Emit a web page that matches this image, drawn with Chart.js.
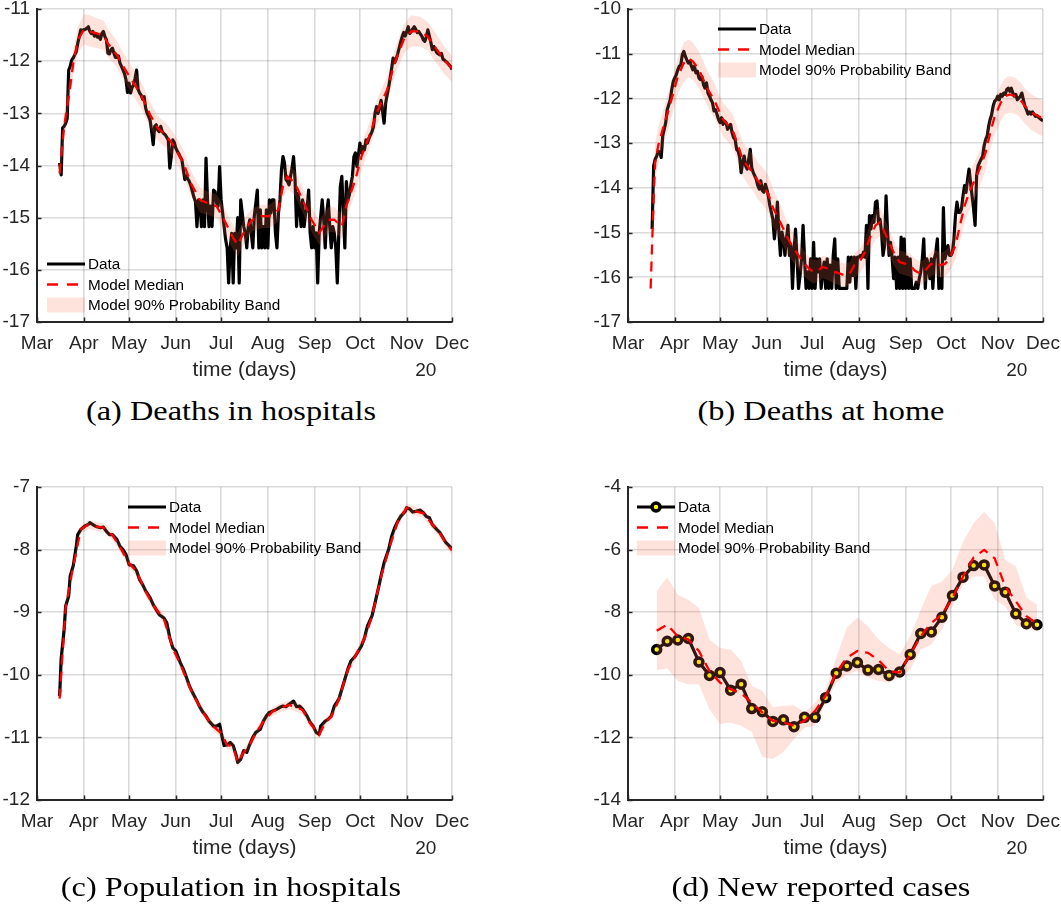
<!DOCTYPE html>
<html>
<head>
<meta charset="utf-8">
<title>Model fit: deaths, hospital population and new cases</title>
<script src="https://cdn.jsdelivr.net/npm/chart.js"></script>
<style>
  body {
    margin: 0;
    width: 1061px;
    height: 905px;
    position: relative;
    overflow: hidden;
    background: #fff;
  }
  canvas { position: absolute; }
  .caption {
    position: absolute;
    width: 600px;
    text-align: center;
    font-family: 'Liberation Serif', 'Times New Roman', serif;
    font-size: 26.5px;
    line-height: 30px;
    color: #000;
    transform: scaleX(1.22);
    white-space: nowrap;
  }
</style>
</head>
<body>
<canvas id="hospDeathsChart" width="470" height="395" style="left:0;top:0"></canvas>
<canvas id="homeDeathsChart" width="470" height="395" style="left:591px;top:0"></canvas>
<canvas id="hospPopChart" width="470" height="395" style="left:0;top:478px"></canvas>
<canvas id="newCasesChart" width="470" height="395" style="left:591px;top:478px"></canvas>

<div class="caption" style="left:-69px;top:396px">(a) Deaths in hospitals</div>
<div class="caption" style="left:521px;top:396px">(b) Deaths at home</div>
<div class="caption" style="left:-69px;top:872px">(c) Population in hospitals</div>
<div class="caption" style="left:521px;top:872px">(d) New reported cases</div>

<script>
// x axis is days since 1 March 2020
const monthStarts = [0, 31, 61, 92, 122, 153, 184, 214, 245, 275];
const monthNames = ['Mar', 'Apr', 'May', 'Jun', 'Jul', 'Aug', 'Sep', 'Oct', 'Nov', 'Dec'];

// (a) deaths in hospitals, daily from day 15
const hospStartDay = 15;
const hospDeaths = [
  -13.95, -14.18, -13.28, -13.25, -13.19, -13.1, -12.17, -12.1, -11.98, -11.94,
  -11.88, -11.82, -11.66, -11.53, -11.4, -11.41, -11.4, -11.39, -11.37, -11.34,
  -11.43, -11.47, -11.43, -11.52, -11.47, -11.54, -11.53, -11.58, -11.47, -11.43,
  -11.53, -11.59, -11.85, -11.86, -11.78, -11.75, -11.85, -11.93, -11.93, -11.9,
  -12.04, -12.1, -12.17, -12.24, -12.36, -12.6, -12.42, -12.61, -12.5, -12.46,
  -12.33, -12.17, -12.54, -12.61, -12.65, -12.73, -12.68, -12.9, -13.0, -13.06,
  -13.14, -13.35, -13.6, -13.25, -13.22, -13.32, -13.35, -13.25, -13.35, -13.39,
  -13.41, -13.46, -13.51, -14.05, -13.83, -13.51, -13.56, -13.67, -13.73, -13.78,
  -13.84, -13.89, -14.08, -14.27, -14.2, -14.26, -14.31, -14.39, -14.5, -14.61,
  -14.69, -15.17, -14.66, -14.73, -15.17, -14.66, -15.17, -13.86, -14.66, -15.17,
  -14.78, -15.17, -14.47, -14.5, -14.72, -14.78, -14.02, -14.66, -14.91, -15.17,
  -15.42, -15.58, -16.25, -15.58, -15.3, -16.25, -15.3, -15.58, -15.0, -16.25,
  -14.66, -14.91, -15.17, -15.29, -15.58, -15.17,
  -15.04, -15.29, -15.58, -14.97, -14.72, -14.47, -15.58, -14.85, -15.58, -15.17,
  -15.58, -14.85, -15.58, -14.66, -14.91, -14.66, -14.66, -15.29, -15.58, -14.91,
  -14.66, -14.08, -13.83, -13.95, -14.27, -14.31, -14.37, -14.21, -14.05, -13.83,
  -14.27, -15.17, -14.53, -14.78, -15.17, -14.66, -15.17, -14.91, -14.82, -14.47,
  -15.29, -15.58, -15.17, -15.58, -15.29, -16.25, -15.29, -14.97, -14.66, -15.04,
  -15.58, -14.91, -14.66, -15.17, -15.58, -15.17, -15.29, -15.58, -16.25, -15.29,
  -14.4, -14.21, -14.91, -15.58, -14.31, -14.66, -14.56, -14.37, -14.21, -13.83,
  -13.76, -14.02, -13.8, -13.57, -13.76, -13.64, -13.7, -13.51, -13.57, -13.48,
  -13.41, -13.35, -13.25, -13.0, -12.87, -13.0, -12.88, -12.75, -12.97, -13.19,
  -12.81, -12.65, -12.5, -12.33, -12.14, -11.94, -12.03, -11.96, -11.86, -11.75,
  -11.63, -11.53, -11.45, -11.52, -11.43, -11.34, -11.47, -11.43, -11.38, -11.34,
  -11.39, -11.45, -11.43, -11.48, -11.52, -11.59, -11.62, -11.53, -11.4, -11.52,
  -11.64, -11.78, -11.72, -11.78, -11.84, -11.86, -11.88, -11.85, -11.96, -11.98,
  -12.01, -12.03, -12.07, -12.1, -12.16
];
const hospModelDays = [
  15, 18, 22, 24, 27, 31, 35, 40, 44, 47, 53, 58, 64, 69, 75, 80, 86, 91, 97, 102,
  108, 113, 119, 124, 130, 133, 137, 141, 143, 149, 154, 160, 163, 166, 171, 176, 182, 187, 193, 197,
  202, 205, 211, 215, 220, 226, 232, 237, 243, 248, 254, 259, 265, 270, 275
];
const hospMedian = [
  -14.15, -13.25, -12.49, -12.04, -11.6, -11.4, -11.43, -11.47, -11.5, -11.66,
  -11.88, -12.14, -12.42, -12.65, -13.03, -13.28, -13.44, -13.64, -13.95, -14.34,
  -14.66, -14.72, -14.78, -15.04, -15.39, -15.52, -15.29, -15.1, -15.04, -14.97,
  -14.97, -14.85, -14.4, -14.21, -14.34, -14.66, -15.04, -15.29, -15.04, -15.04,
  -15.17, -14.78, -14.27, -13.83, -13.45, -12.93, -12.55, -12.04, -11.59, -11.43,
  -11.43, -11.53, -11.78, -11.98, -12.14
];
const hospBandLow = [
  -14.35, -13.5, -12.72, -12.28, -11.85, -11.68, -11.72, -11.75, -11.78, -11.92,
  -12.12, -12.4, -12.68, -12.9, -13.28, -13.52, -13.68, -13.88, -14.2, -14.58,
  -14.9, -14.95, -15.0, -15.28, -15.62, -15.75, -15.52, -15.32, -15.26, -15.2,
  -15.2, -15.08, -14.62, -14.45, -14.58, -14.9, -15.28, -15.52, -15.28, -15.28,
  -15.4, -15.02, -14.52, -14.08, -13.7, -13.18, -12.8, -12.3, -11.85, -11.72,
  -11.72, -11.8, -12.05, -12.25, -12.4
];
const hospBandHigh = [
  -13.95, -13.0, -12.25, -11.8, -11.35, -11.1, -11.12, -11.18, -11.22, -11.38,
  -11.62, -11.88, -12.15, -12.4, -12.78, -13.05, -13.2, -13.4, -13.7, -14.1,
  -14.42, -14.5, -14.55, -14.8, -15.15, -15.3, -15.05, -14.88, -14.82, -14.75,
  -14.75, -14.62, -14.18, -13.98, -14.1, -14.42, -14.8, -15.05, -14.8, -14.8,
  -14.92, -14.55, -14.02, -13.58, -13.2, -12.68, -12.3, -11.78, -11.3, -11.12,
  -11.15, -11.25, -11.5, -11.72, -11.9
];

// (b) deaths at home, daily from day 16
const homeStartDay = 16;
const homeDeaths = [
  -14.92, -13.51, -13.36, -13.29, -13.18, -13.21, -13.32, -12.84, -12.69, -12.54,
  -12.25, -12.14, -12.03, -11.8, -11.62, -11.54, -11.47, -11.36, -11.28, -11.25,
  -11.02, -10.95, -11.06, -11.14, -11.21, -11.17, -11.28, -11.36, -11.28, -11.43,
  -11.39, -11.54, -11.58, -11.51, -11.69, -11.77, -11.65, -11.88, -11.95, -12.03,
  -12.1, -12.28, -12.25, -12.36, -12.47, -12.54, -12.43, -12.58, -12.51, -12.54,
  -12.69, -12.62, -12.58, -12.77, -12.88, -12.92, -13.14, -13.18, -13.32, -13.66,
  -13.43, -13.29, -13.51, -13.58, -13.36, -13.14, -13.55, -13.66, -13.73, -13.81,
  -13.95, -14.03, -13.84, -14.06, -14.1, -13.92, -14.03, -14.18, -14.4, -14.55,
  -14.7, -15.14, -14.84, -14.32, -14.99, -15.51, -14.99, -15.14, -15.51, -15.14,
  -14.84, -15.51, -15.29, -16.25, -15.44, -14.92, -15.59, -16.25, -15.96, -15.59,
  -14.84, -15.59, -16.25, -15.88, -16.25, -15.59, -16.25, -15.22, -16.25, -15.59,
  -15.88, -15.59, -16.25, -15.88, -15.66, -16.25, -15.59, -16.25, -15.73, -16.25,
  -15.51, -15.14, -16.25, -15.59, -16.25, -16.25, -16.25, -16.25, -16.25, -16.25,
  -15.55, -16.11, -15.55, -15.96, -15.55, -16.25, -15.55, -15.55, -15.51, -15.55,
  -15.44, -15.55, -14.84, -16.25, -14.62, -14.92, -14.62, -14.77, -14.32, -14.29,
  -14.77, -14.7, -14.99, -15.51, -15.29, -14.18, -14.99, -15.51, -15.22, -15.55,
  -16.03, -15.55, -16.25, -15.55, -16.25, -15.1, -16.25, -15.14, -16.25, -15.55,
  -16.25, -15.59, -16.25, -16.25, -16.25, -16.11, -16.25, -16.03, -15.88, -15.59,
  -15.14, -16.25, -15.59, -15.73, -16.03, -15.59, -16.25, -15.59, -15.44, -15.14,
  -16.25, -16.03, -16.25, -14.44, -15.59, -15.44, -15.29, -15.51, -15.51, -15.44,
  -15.14, -14.62, -14.32, -14.55, -14.55, -14.47, -14.18, -13.95, -14.1, -13.81,
  -13.58, -13.88, -14.18, -14.47, -14.84, -13.73, -13.51, -13.43, -13.36, -13.29,
  -13.06, -12.92, -12.84, -12.62, -12.47, -12.36, -12.17, -12.06, -12.03, -11.95,
  -12.03, -11.91, -11.95, -11.88, -11.91, -11.8, -11.77, -11.84, -11.77, -11.88,
  -11.95, -11.91, -12.03, -11.99, -11.95, -11.88, -12.03, -12.17, -12.25, -12.35,
  -12.3, -12.35, -12.3, -12.35, -12.4, -12.38, -12.42, -12.45, -12.48, -12.5
];
const homeModelDays = [
  15, 17, 18, 20, 23, 27, 30, 33, 37, 40, 43, 47, 50, 53, 57, 60, 63, 67, 70, 73,
  76, 80, 83, 86, 90, 93, 96, 100, 103, 106, 110, 113, 116, 120, 123, 126, 129, 133, 137, 144,
  147, 150, 154, 157, 160, 164, 167, 170, 174, 177, 180, 184, 187, 190, 194, 197, 200, 203, 207, 210,
  213, 217, 220, 223, 227, 230, 233, 237, 240, 243, 247, 250, 253, 257, 260, 263, 267, 271, 275
];
const homeMedian = [
  -16.25, -14.25, -13.43, -13.06, -12.69, -12.25, -11.88, -11.51, -11.21, -11.1,
  -11.17, -11.36, -11.58, -11.8, -12.03, -12.25, -12.47, -12.62, -12.77, -13.06,
  -13.36, -13.55, -13.66, -13.84, -13.99, -14.14, -14.44, -14.7, -14.92, -15.14,
  -15.36, -15.51, -15.66, -15.81, -15.88, -15.85, -15.77, -15.81, -15.88, -15.96,
  -15.92, -15.73, -15.62, -15.44, -15.14, -14.84, -14.77, -14.99, -15.29, -15.51,
  -15.66, -15.7, -15.73, -15.85, -15.92, -15.85, -15.73, -15.66, -15.73, -15.7,
  -15.59, -15.29, -14.84, -14.4, -14.03, -13.81, -13.58, -13.21, -12.77, -12.4,
  -12.1, -11.95, -11.91, -11.95, -12.03, -12.17, -12.3, -12.38, -12.45
];
const homeBandLow = [
  -16.7, -14.75, -13.85, -13.45, -13.08, -12.65, -12.27, -11.9, -11.62, -11.52,
  -11.58, -11.77, -11.98, -12.2, -12.42, -12.62, -12.84, -13.0, -13.15, -13.45,
  -13.74, -13.95, -14.07, -14.26, -14.4, -14.56, -14.86, -15.1, -15.3, -15.5,
  -15.68, -15.82, -15.95, -16.08, -16.14, -16.1, -16.02, -16.07, -16.14, -16.22,
  -16.18, -16.0, -15.9, -15.73, -15.44, -15.16, -15.09, -15.3, -15.58, -15.78,
  -15.92, -15.96, -15.99, -16.1, -16.18, -16.1, -16.0, -15.94, -16.0, -15.98,
  -15.88, -15.6, -15.18, -14.78, -14.44, -14.22, -13.98, -13.6, -13.16, -12.8,
  -12.5, -12.35, -12.32, -12.35, -12.43, -12.56, -12.7, -12.78, -12.85
];
const homeBandHigh = [
  -15.7, -13.75, -13.0, -12.65, -12.3, -11.85, -11.5, -11.1, -10.75, -10.68,
  -10.75, -10.95, -11.18, -11.4, -11.65, -11.88, -12.1, -12.25, -12.4, -12.68,
  -12.98, -13.15, -13.25, -13.42, -13.58, -13.72, -14.02, -14.3, -14.55, -14.8,
  -15.05, -15.22, -15.38, -15.55, -15.62, -15.6, -15.52, -15.55, -15.62, -15.7,
  -15.66, -15.46, -15.34, -15.15, -14.84, -14.52, -14.45, -14.68, -15.0, -15.24,
  -15.4, -15.44, -15.47, -15.58, -15.65, -15.58, -15.46, -15.38, -15.45, -15.42,
  -15.3, -14.98, -14.5, -14.02, -13.62, -13.4, -13.18, -12.82, -12.38, -12.0,
  -11.7, -11.55, -11.5, -11.55, -11.63, -11.78, -11.9, -11.98, -12.05
];

// (c) population in hospitals
const popDays = [
  15, 16, 18, 19, 21, 22, 24, 26, 27, 29, 31, 32, 34, 35, 37, 39, 42, 44, 46, 48,
  50, 53, 55, 57, 59, 61, 64, 66, 68, 70, 72, 75, 77, 79, 81, 84, 86, 88, 90, 92,
  95, 97, 99, 101, 103, 106, 108, 110, 112, 114, 117, 119, 121, 122, 124, 126, 128, 130, 132, 133,
  135, 137, 139, 141, 143, 145, 148, 150, 152, 154, 156, 159, 161, 163, 165, 167, 170, 172, 174, 176,
  179, 181, 183, 185, 187, 188, 191, 193, 195, 197, 200, 202, 204, 206, 208, 211, 213, 215, 217, 219,
  222, 224, 226, 228, 230, 233, 235, 237, 239, 241, 244, 245, 247, 249, 251, 254, 256, 258, 260, 262,
  265, 267, 269, 271, 274, 275
];
const popData = [
  -10.34, -9.75, -9.27, -8.9, -8.74, -8.42, -8.26, -7.95, -7.76, -7.68,
  -7.64, -7.62, -7.6, -7.57, -7.6, -7.63, -7.65, -7.64, -7.71, -7.76,
  -7.76, -7.84, -7.95, -8.0, -8.08, -8.24, -8.26, -8.34, -8.48, -8.56,
  -8.66, -8.77, -8.88, -8.96, -9.04, -9.09, -9.17, -9.41, -9.57, -9.62,
  -9.81, -9.91, -10.04, -10.18, -10.28, -10.42, -10.52, -10.6, -10.66, -10.74,
  -10.82, -10.82, -10.79, -10.92, -11.13, -11.12, -11.08, -11.13, -11.29, -11.4,
  -11.35, -11.21, -11.24, -11.11, -11.0, -10.92, -10.87, -10.74, -10.66, -10.6,
  -10.58, -10.55, -10.52, -10.5, -10.51, -10.47, -10.42, -10.51, -10.5, -10.55,
  -10.66, -10.76, -10.82, -10.92, -10.95, -10.82, -10.74, -10.71, -10.66, -10.5,
  -10.39, -10.23, -10.07, -9.91, -9.78, -9.7, -9.62, -9.54, -9.41, -9.22,
  -9.06, -8.85, -8.64, -8.42, -8.21, -8.0, -7.79, -7.65, -7.55, -7.47,
  -7.39, -7.33, -7.35, -7.4, -7.39, -7.37, -7.41, -7.47, -7.49, -7.6,
  -7.68, -7.73, -7.81, -7.89, -7.96, -8.0
];
const popModelDays = [
  15, 19, 24, 29, 34, 39, 44, 50, 55, 61, 66, 72, 77, 84, 90, 95, 101, 106, 112, 117,
  122, 126, 130, 133, 137, 141, 145, 150, 156, 161, 167, 172, 176, 181, 187, 191, 195, 200, 206, 211,
  217, 222, 228, 233, 239, 245, 251, 256, 262, 267, 271, 275
];
const popMedian = [
  -10.38, -8.92, -8.27, -7.68, -7.6, -7.63, -7.65, -7.77, -7.96, -8.22,
  -8.35, -8.67, -8.89, -9.1, -9.58, -9.83, -10.19, -10.43, -10.67, -10.83,
  -10.93, -11.12, -11.15, -11.4, -11.24, -11.12, -10.93, -10.75, -10.59, -10.53,
  -10.48, -10.52, -10.56, -10.77, -10.96, -10.76, -10.67, -10.4, -9.92, -9.7,
  -9.42, -9.07, -8.43, -8.01, -7.56, -7.33, -7.39, -7.42, -7.6, -7.74,
  -7.9, -8.01
];
const popBandLow = [
  -10.48, -9.0, -8.34, -7.75, -7.67, -7.7, -7.72, -7.84, -8.03, -8.29,
  -8.42, -8.74, -8.96, -9.17, -9.65, -9.9, -10.26, -10.5, -10.74, -10.9,
  -11.0, -11.19, -11.22, -11.48, -11.31, -11.19, -11.0, -10.82, -10.66, -10.6,
  -10.55, -10.59, -10.63, -10.84, -11.03, -10.83, -10.74, -10.47, -9.99, -9.77,
  -9.49, -9.14, -8.5, -8.08, -7.63, -7.4, -7.46, -7.49, -7.67, -7.81,
  -7.97, -8.08
];
const popBandHigh = [
  -10.28, -8.84, -8.2, -7.61, -7.53, -7.56, -7.58, -7.7, -7.89, -8.15,
  -8.28, -8.6, -8.82, -9.03, -9.51, -9.76, -10.12, -10.36, -10.6, -10.76,
  -10.86, -11.05, -11.08, -11.32, -11.17, -11.05, -10.86, -10.68, -10.52, -10.46,
  -10.41, -10.44, -10.49, -10.7, -10.89, -10.69, -10.6, -10.33, -9.85, -9.63,
  -9.35, -9.0, -8.36, -7.94, -7.49, -7.26, -7.32, -7.35, -7.53, -7.67,
  -7.83, -7.94
];

// (d) new reported cases, weekly
const caseDays = [
  19, 26, 33, 40, 47, 54, 61, 68, 75, 82, 89, 96, 103, 110, 117, 124, 131, 138, 145, 152,
  159, 166, 173, 180, 187, 194, 201, 208, 215, 222, 229, 236, 243, 250, 257, 264, 271
];
const caseData = [
  -9.19, -8.93, -8.89, -8.84, -9.59, -10.02, -9.93, -10.49, -10.3, -11.08,
  -11.18, -11.49, -11.44, -11.66, -11.36, -11.36, -10.73, -9.95, -9.72, -9.61,
  -9.85, -9.83, -10.02, -9.91, -9.35, -8.68, -8.63, -8.16, -7.47, -6.88,
  -6.51, -6.49, -7.16, -7.36, -8.05, -8.37, -8.4
];
const caseMedian = [
  -8.59, -8.4, -8.77, -8.87, -9.24, -9.88, -10.25, -10.46, -10.59, -10.89,
  -11.2, -11.47, -11.52, -11.63, -11.47, -11.15, -10.67, -9.93, -9.46, -9.24,
  -9.3, -9.53, -9.88, -9.93, -9.35, -8.77, -8.34, -8.08, -7.55, -6.86,
  -6.25, -6.01, -6.28, -7.18, -7.65, -8.13, -8.36
];
const caseBandLow = [
  -9.85, -9.8, -10.2, -10.3, -10.3, -11.1, -11.57, -11.52, -11.63, -11.82,
  -12.63, -12.69, -12.47, -12.05, -11.68, -11.63, -10.89, -10.25, -9.99, -9.88,
  -10.09, -10.2, -10.25, -10.09, -9.83, -9.19, -9.03, -8.55, -7.81, -7.12,
  -6.86, -6.86, -7.6, -7.81, -8.4, -8.55, -8.55
];
const caseBandHigh = [
  -7.34, -6.88, -7.44, -7.6, -7.87, -8.87, -9.14, -9.19, -9.56, -10.36,
  -10.51, -11.04, -10.99, -10.97, -11.2, -10.89, -10.46, -9.46, -8.5, -8.18,
  -8.45, -8.87, -9.14, -9.35, -8.77, -7.92, -7.16, -7.02, -6.65, -5.75,
  -5.17, -4.79, -5.17, -6.33, -6.54, -7.52, -7.76
];

const FONT = '"Liberation Sans", Arial, Helvetica, sans-serif';
const AXIS_COLOR = '#262626';
const GRID_COLOR = 'rgba(38, 38, 38, 0.17)';
const BAND_COLOR = 'rgba(250, 110, 80, 0.2)';

Chart.defaults.font.family = FONT;
Chart.defaults.color = AXIS_COLOR;

function toPoints(days, values) {
  return values.map((v, i) => ({ x: days[i], y: v }));
}

function dailyPoints(start, values) {
  return values.map((v, i) => ({ x: start + i, y: v }));
}

// matlab-style inward tick marks on left and bottom axes
const inwardTicks = {
  id: 'inwardTicks',
  afterDraw(chart) {
    const { ctx, chartArea: a, scales: { x, y } } = chart;
    ctx.save();
    ctx.strokeStyle = AXIS_COLOR;
    ctx.lineWidth = 1.5;
    ctx.beginPath();
    x.ticks.forEach((t, i) => {
      const px = Math.round(x.getPixelForTick(i)) + 0.5;
      ctx.moveTo(px, a.bottom);
      ctx.lineTo(px, a.bottom - 4.5);
    });
    y.ticks.forEach((t, i) => {
      const py = Math.round(y.getPixelForTick(i)) + 0.5;
      ctx.moveTo(a.left, py);
      ctx.lineTo(a.left + 4.5, py);
    });
    ctx.stroke();
    ctx.restore();
  }
};

// year label under the Nov/Dec ticks
const yearLabel = {
  id: 'yearLabel',
  afterDraw(chart) {
    const { ctx, chartArea: a, scales: { x } } = chart;
    ctx.save();
    ctx.font = '19px ' + FONT;
    ctx.fillStyle = AXIS_COLOR;
    ctx.textAlign = 'center';
    ctx.textBaseline = 'middle';
    ctx.fillText('20', x.getPixelForValue(monthStarts[8]) + 19, a.bottom + 49);
    ctx.restore();
  }
};

// boxless legend: data line, median dash, band patch
const cornerLegend = {
  id: 'cornerLegend',
  afterDraw(chart, args, opts) {
    const { ctx, chartArea: a } = chart;
    const ds = chart.data.datasets;
    const rows = [ds[0], ds[3], ds[2]];
    const x0 = a.left + opts.dx;
    const len = 38;
    ctx.save();
    ctx.font = '15.3px ' + FONT;
    ctx.textBaseline = 'middle';
    rows.forEach((d, i) => {
      const yy = a.top + opts.dy + i * opts.gap;
      if (d.fill) {
        ctx.fillStyle = d.backgroundColor;
        ctx.fillRect(x0, yy - 7.5, len, 15);
      } else {
        ctx.strokeStyle = d.borderColor;
        ctx.lineWidth = d.borderWidth;
        ctx.setLineDash(d.borderDash ? [11, 9] : []);
        ctx.beginPath();
        ctx.moveTo(x0, yy);
        ctx.lineTo(x0 + len, yy);
        ctx.stroke();
        ctx.setLineDash([]);
        if (d.pointRadius) {
          ctx.beginPath();
          ctx.arc(x0 + len / 2, yy, d.pointRadius, 0, Math.PI * 2);
          ctx.fillStyle = d.pointBackgroundColor;
          ctx.fill();
          ctx.lineWidth = d.pointBorderWidth;
          ctx.strokeStyle = d.pointBorderColor;
          ctx.stroke();
        }
      }
      ctx.fillStyle = '#000';
      ctx.fillText(d.label, x0 + len + 3, yy + 1);
    });
    ctx.restore();
  }
};

function makePanel(canvasId, p) {
  const datasets = [
    {
      label: 'Data',
      data: p.data,
      borderColor: '#000',
      borderWidth: 3.2,
      borderJoinStyle: 'round',
      pointRadius: p.markers ? 4 : 0,
      pointBorderWidth: 3.5,
      pointBorderColor: '#000',
      pointBackgroundColor: '#ffff00',
      order: 3
    },
    {
      label: 'band low',
      data: toPoints(p.modelDays, p.low),
      borderWidth: 0,
      borderColor: 'rgba(0,0,0,0)',
      pointRadius: 0,
      fill: false,
      order: 2
    },
    {
      label: 'Model 90% Probability Band',
      data: toPoints(p.modelDays, p.high),
      borderWidth: 0,
      borderColor: 'rgba(0,0,0,0)',
      backgroundColor: BAND_COLOR,
      pointRadius: 0,
      fill: '-1',
      order: 2
    },
    {
      label: 'Model Median',
      data: toPoints(p.modelDays, p.median),
      borderColor: '#ff0000',
      borderWidth: 2.3,
      borderDash: [10, 7],
      pointRadius: 0,
      order: 1
    }
  ];

  return new Chart(document.getElementById(canvasId), {
    type: 'line',
    data: { datasets },
    plugins: [inwardTicks, yearLabel, cornerLegend],
    options: {
      responsive: false,
      animation: false,
      devicePixelRatio: 1,
      layout: { padding: { left: 0, right: 18, top: 9, bottom: 8 } },
      elements: { line: { tension: 0 } },
      scales: {
        x: {
          type: 'linear',
          min: 0,
          max: 275,
          afterBuildTicks: s => { s.ticks = monthStarts.map(v => ({ value: v })); },
          afterFit: s => { s.height = 65; s.paddingLeft = 0; s.paddingRight = 0; },
          ticks: {
            autoSkip: false,
            maxRotation: 0,
            padding: 10.5,
            color: AXIS_COLOR,
            font: { size: 19 },
            callback: (v, i) => monthNames[i]
          },
          grid: { color: GRID_COLOR, lineWidth: 1.6, drawTicks: false },
          border: { color: AXIS_COLOR, width: 2 },
          title: {
            display: true,
            text: 'time (days)',
            color: AXIS_COLOR,
            font: { size: 21 },
            padding: { top: 4, bottom: 4 }
          }
        },
        y: {
          min: p.yMin,
          max: p.yMax,
          afterFit: s => { s.width = 37; s.paddingTop = 0; s.paddingBottom = 0; },
          ticks: { stepSize: p.yStep, padding: 7, color: AXIS_COLOR, font: { size: 19 } },
          grid: { color: GRID_COLOR, lineWidth: 1.6, drawTicks: false },
          border: { color: AXIS_COLOR, width: 2 }
        }
      },
      plugins: {
        legend: { display: false },
        tooltip: { enabled: false },
        cornerLegend: p.legend
      }
    }
  });
}

makePanel('hospDeathsChart', {
  data: dailyPoints(hospStartDay, hospDeaths),
  modelDays: hospModelDays, median: hospMedian, low: hospBandLow, high: hospBandHigh,
  yMin: -17, yMax: -11, yStep: 1,
  legend: { dx: 10, dy: 255, gap: 20.5 }
});

makePanel('homeDeathsChart', {
  data: dailyPoints(homeStartDay, homeDeaths),
  modelDays: homeModelDays, median: homeMedian, low: homeBandLow, high: homeBandHigh,
  yMin: -17, yMax: -10, yStep: 1,
  legend: { dx: 90, dy: 20, gap: 20.5 }
});

makePanel('hospPopChart', {
  data: toPoints(popDays, popData),
  modelDays: popModelDays, median: popMedian, low: popBandLow, high: popBandHigh,
  yMin: -12, yMax: -7, yStep: 1,
  legend: { dx: 91, dy: 20, gap: 20.5 }
});

makePanel('newCasesChart', {
  data: toPoints(caseDays, caseData),
  markers: true,
  modelDays: caseDays, median: caseMedian, low: caseBandLow, high: caseBandHigh,
  yMin: -14, yMax: -4, yStep: 2,
  legend: { dx: 9, dy: 20, gap: 20.5 }
});
</script>
</body>
</html>
